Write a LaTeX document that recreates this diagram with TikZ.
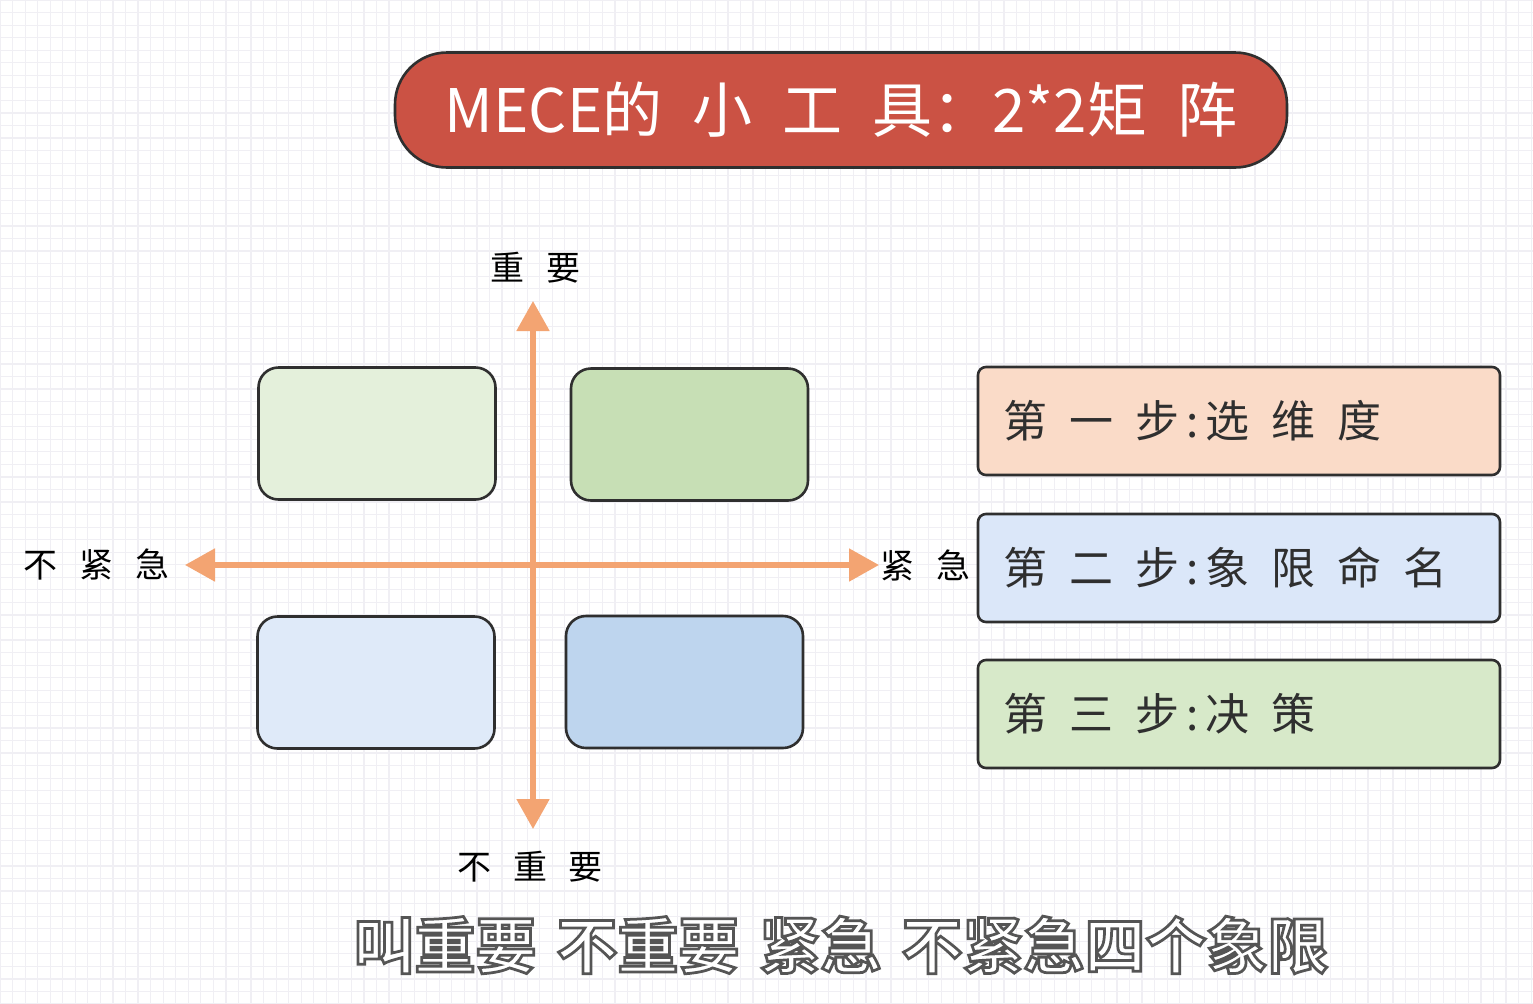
\documentclass[tikz,border=0pt]{standalone}
\usepackage{fontspec}
\setmainfont{Noto Sans CJK SC}
\newfontface\subf{Noto Sans CJK SC Bold}[FakeBold=4.5]
\usetikzlibrary{arrows.meta}
\definecolor{gridc}{HTML}{F0EFF4}
\definecolor{inkc}{HTML}{2F2F2F}
\definecolor{titlered}{HTML}{CB5244}
\definecolor{axisor}{HTML}{F3A472}
\definecolor{qtl}{HTML}{E4F0DB}
\definecolor{qtr}{HTML}{C7DFB5}
\definecolor{qbl}{HTML}{DFEAF9}
\definecolor{qbr}{HTML}{BED5EE}
\definecolor{sone}{HTML}{FADBC8}
\definecolor{stwo}{HTML}{DBE7F9}
\definecolor{sthree}{HTML}{D7E9C9}
\definecolor{subgray}{HTML}{555555}
\newcommand{\gp}{\hspace{11pt}}
\newcommand{\ga}{\hspace{15pt}}
\begin{document}
\begin{tikzpicture}[x=0.5pt,y=-0.5pt,
  gridline/.style={draw=gridc, line width=0.6pt},
  box/.style={draw=inkc, line width=1.3pt, inner sep=0pt},
  titlebox/.style={box, fill=titlered, minimum width=446pt, minimum height=57.5pt, rounded corners=26pt, text=white, font=\fontsize{30}{30}\selectfont},
  quad/.style={box, rounded corners=10pt, minimum width=118.5pt, minimum height=66pt},
  stepbox/.style={box, rounded corners=4pt, minimum height=54pt, text width=236pt, inner xsep=12.5pt, align=left, text=inkc, font=\fontsize{22}{22}\selectfont},
  axislabel/.style={text=black, font=\fontsize{17}{17}\selectfont, inner sep=0pt},
  axisline/.style={draw=axisor, line width=2.6pt, {Triangle[length=15pt,width=16pt]}-{Triangle[length=15pt,width=16pt]}},
]
\useasboundingbox (0,0) rectangle (1533,1003);
\fill[white] (0,0) rectangle (1533,1003);
\foreach \i in {0,...,122} \draw[gridline] (\i*12.55,0) -- (\i*12.55,1003);
\foreach \j in {0,...,80} \draw[gridline] (0,\j*12.55) -- (1533,\j*12.55);

% title
\node[titlebox] (title) at (841,110) {MECE的\ga 小\ga 工\ga 具：2*2矩\ga 阵};

% quadrants
\node[quad, fill=qtl] (qTL) at (377,433.5) {};
\node[quad, fill=qtr] (qTR) at (689.5,434.5) {};
\node[quad, fill=qbl] (qBL) at (376,682.5) {};
\node[quad, fill=qbr] (qBR) at (684.5,682) {};

% axes
\coordinate (xl) at (185,565);
\coordinate (xr) at (879,565);
\coordinate (yt) at (533,301);
\coordinate (yb) at (533,829);
\draw[axisline] (xl) -- (xr);
\draw[axisline] (yb) -- (yt);

% axis labels
\node[axislabel] (imp) at (535,268) {重\gp 要};
\node[axislabel] (nimp) at (530,867) {不\gp 重\gp 要};
\node[axislabel] (nurg) at (97,564) {不\gp 紧\gp 急};
\node[axislabel] (urg) at (925,565) {紧\gp 急};

% steps
\node[stepbox, fill=sone] (s1) at (1239,421) {第\gp 一\gp 步\,:\,选\gp 维\gp 度};
\node[stepbox, fill=stwo] (s2) at (1239,568) {第\gp 二\gp 步\,:\,象\gp 限\gp 命\gp 名};
\node[stepbox, fill=sthree] (s3) at (1239,714) {第\gp 三\gp 步\,:\,决\gp 策};

% subtitle
\node[inner sep=0pt] (sub) at (841,945) {\color{white}\pgfsetstrokecolor{subgray}\subf\fontsize{30.5}{30.5}\selectfont 叫重要\hspace{10pt}不重要\hspace{10pt}紧急\hspace{10pt}不紧急四个象限};
\end{tikzpicture}
\end{document}
